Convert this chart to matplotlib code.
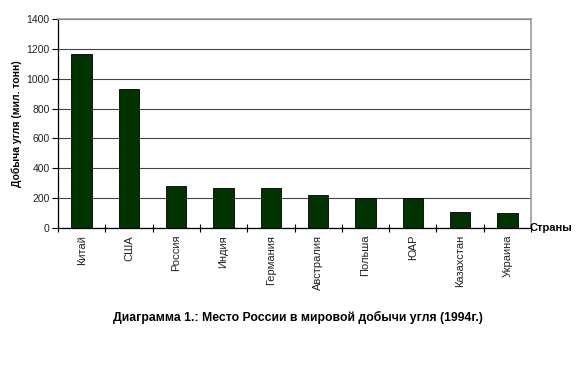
import matplotlib
matplotlib.use("Agg")
import matplotlib.pyplot as plt
from matplotlib.ticker import FixedLocator, NullFormatter

countries = ["Китай", "США", "Россия", "Индия", "Германия", "Австралия",
             "Польша", "ЮАР", "Казахстан", "Украина"]
values = [1167, 933, 279, 270, 270, 219, 201, 201, 107, 98]
yticks = [0, 200, 400, 600, 800, 1000, 1200, 1400]

plt.rcParams['font.family'] = ['Liberation Sans', 'DejaVu Sans']

W, H = 583, 389
fig = plt.figure(figsize=(W / 100, H / 100), dpi=100)
ax = fig.add_axes([58 / W, 1 - 228 / H, (531 - 58) / W, (228 - 19) / H])

x = list(range(len(countries)))
ax.bar(x, values, width=0.43, color="#003300", edgecolor="black", linewidth=0.6, zorder=3)

ax.set_xlim(-0.5, len(countries) - 0.5)
ax.set_ylim(0, 1400)
ax.set_yticks(yticks)
ax.set_yticklabels([str(v) for v in yticks], fontsize=7.5, color="#222222")
ax.yaxis.grid(True, color="#444444", linewidth=0.8, zorder=0)
ax.tick_params(axis="y", length=4, width=0.8, pad=2)

ax.set_xticks(x)
ax.set_xticklabels(countries, rotation=90, fontsize=8, color="#222222")
ax.tick_params(axis="x", which="major", length=0, pad=5)
ax.xaxis.set_minor_locator(FixedLocator([i - 0.5 for i in range(len(countries) + 1)]))
ax.xaxis.set_minor_formatter(NullFormatter())
ax.tick_params(axis="x", which="minor", direction="inout", length=6, width=0.8)

for s in ["left", "bottom"]:
    ax.spines[s].set_color("black")
    ax.spines[s].set_linewidth(0.9)
for s in ["top", "right"]:
    ax.spines[s].set_color("#999999")
    ax.spines[s].set_linewidth(1.2)

fig.text(17 / W, 1 - 124 / H, "Добыча угля (мил. тонн)", fontsize=7.5, fontweight="bold",
         rotation=90, ha="center", va="center")
fig.text(529 / W, 1 - 228 / H, "Страны", fontsize=8, fontweight="bold",
         ha="left", va="center")
fig.text(298 / W, 1 - 317 / H, "Диаграмма 1.: Место России в мировой добычи угля (1994г.)",
         fontsize=8.8, fontweight="bold", ha="center", va="center")

fig.savefig("out.png", dpi=100)
